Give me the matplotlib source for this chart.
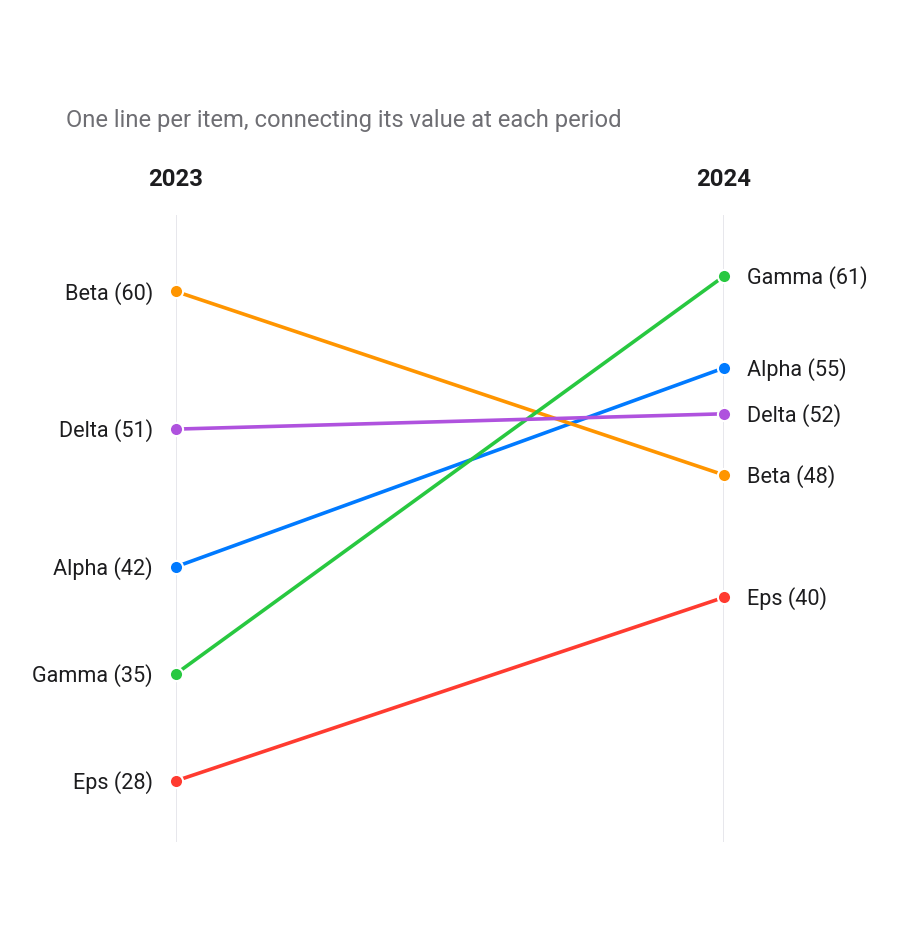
import matplotlib.pyplot as plt

plt.rcParams['font.family'] = ['Roboto', 'DejaVu Sans']

# slope chart data
items = ["Alpha", "Beta", "Gamma", "Delta", "Eps"]
periods = ["2023", "2024"]
values_2023 = [42, 60, 35, 51, 28]
values_2024 = [55, 48, 61, 52, 40]
colors = ["#007AFF", "#FF9500", "#28C840", "#AF52DE", "#FF3B30"]

W, H = 900, 952
fig = plt.figure(figsize=(W / 100, H / 100), dpi=100)
ax = fig.add_axes([176 / W, (H - 842) / H, 548 / W, 627 / H])
ax.set_xlim(0, 1)
ax.set_ylim(24, 65)
ax.axis("off")

for x in (0, 1):
    ax.axvline(x, color="#e5e5ea", lw=1.3, zorder=0)

for name, v0, v1, c in zip(items, values_2023, values_2024, colors):
    ax.plot([0, 1], [v0, v1], color=c, lw=2.6, zorder=2, solid_capstyle="round")
    ax.plot([0, 1], [v0, v1], "o", color=c, ms=9.5, mec="white", mew=1.5,
            zorder=3, clip_on=False)
    ax.annotate(f"{name} ({v0})", (0, v0), xytext=(-16.5, -1.2),
                textcoords="offset points", ha="right", va="center",
                fontsize=15.6, color="#1d1d1f")
    ax.annotate(f"{name} ({v1})", (1, v1), xytext=(16.5, -1.2),
                textcoords="offset points", ha="left", va="center",
                fontsize=15.6, color="#1d1d1f")

for x, p in zip((0, 1), periods):
    fig.text(176 / W + x * 548 / W, 1 - 180 / H, p, ha="center", va="center",
             fontsize=17.2, fontweight="bold", color="#1d1d1f")

fig.text(66 / W, 1 - 121 / H, "One line per item, connecting its value at each period",
         ha="left", va="center", fontsize=17.1, color="#6e6e73")

fig.savefig("out.png", dpi=100, facecolor="white")
